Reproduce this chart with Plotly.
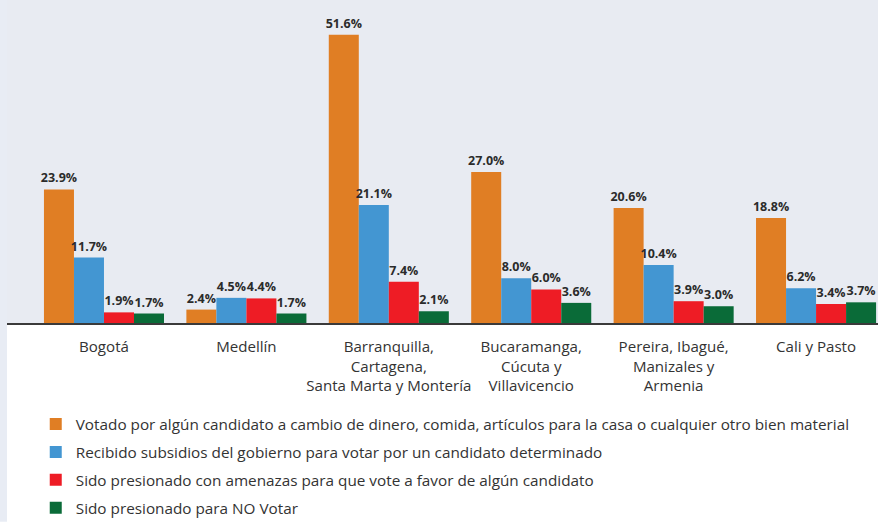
import plotly.graph_objects as go

# regiones (etiquetas del eje x)
regiones = [
    "Bogotá",
    "Medellín",
    "Barranquilla,<br>Cartagena,<br>Santa Marta y Montería",
    "Bucaramanga,<br>Cúcuta y<br>Villavicencio",
    "Pereira, Ibagué,<br>Manizales y<br>Armenia",
    "Cali y Pasto",
]

# porcentajes por serie
votado_dinero = [23.9, 2.4, 51.6, 27.0, 20.6, 18.8]
subsidios = [11.7, 4.5, 21.1, 8.0, 10.4, 6.2]
amenazas = [1.9, 4.4, 7.4, 6.0, 3.9, 3.4]
no_votar = [1.7, 1.7, 2.1, 3.6, 3.0, 3.7]

series = [
    ("Votado por algún candidato a cambio de dinero, comida, artículos para la casa o cualquier otro bien material",
     votado_dinero, "#E07E24"),
    ("Recibido subsidios del gobierno para votar por un candidato determinado", subsidios, "#4396D2"),
    ("Sido presionado con amenazas para que vote a favor de algún candidato", amenazas, "#EE1C25"),
    ("Sido presionado para NO Votar", no_votar, "#0A6B38"),
]

FONT = "Open Sans, Liberation Sans, sans-serif"

fig = go.Figure()
x_idx = list(range(len(regiones)))
for i, (name, vals, col) in enumerate(series):
    fig.add_trace(go.Bar(
        x=x_idx, y=vals, name=name, legendgroup=f"g{i}",
        marker=dict(color=col, line=dict(width=0)),
        text=[f"{v:.1f}%" for v in vals],
        textposition="outside", constraintext="none", cliponaxis=False,
        textfont=dict(family=FONT, size=12.5, color="#2b2b2b", weight="bold"),
    ))

fig.update_layout(
    width=882, height=525,
    barmode="group", bargap=0.157, bargroupgap=0,
    paper_bgcolor="white", plot_bgcolor="#e8ebf2",
    margin=dict(l=7, r=4, t=0, b=200),
    font=dict(family=FONT, size=15, color="#333333"),
    legend=dict(
        x=0.033, y=-0.262, xanchor="left", yanchor="top",
        traceorder="grouped", tracegroupgap=5,
        font=dict(size=15.3, color="#333333"),
        bgcolor="rgba(0,0,0,0)",
    ),
    showlegend=True,
    # franja azul clara a la izquierda
    shapes=[dict(type="rect", xref="paper", yref="paper",
                 x0=-7 / 871, x1=0, y0=-200 / 325, y1=1,
                 fillcolor="#e8ecf4", line=dict(width=0), layer="below")],
)
fig.update_xaxes(
    tickmode="array", tickvals=x_idx, ticktext=regiones,
    range=[-0.681, 5.435], showline=True, linecolor="#3a3a3a", linewidth=2,
    ticks="", showgrid=False, zeroline=False, ticklabelstandoff=9,
    tickfont=dict(size=15.1, color="#333333"),
)
fig.update_yaxes(range=[0, 57.8], visible=False, showgrid=False)

fig.write_html("out.html", config={"displayModeBar": False},
               post_script="document.body.style.margin='0';")
